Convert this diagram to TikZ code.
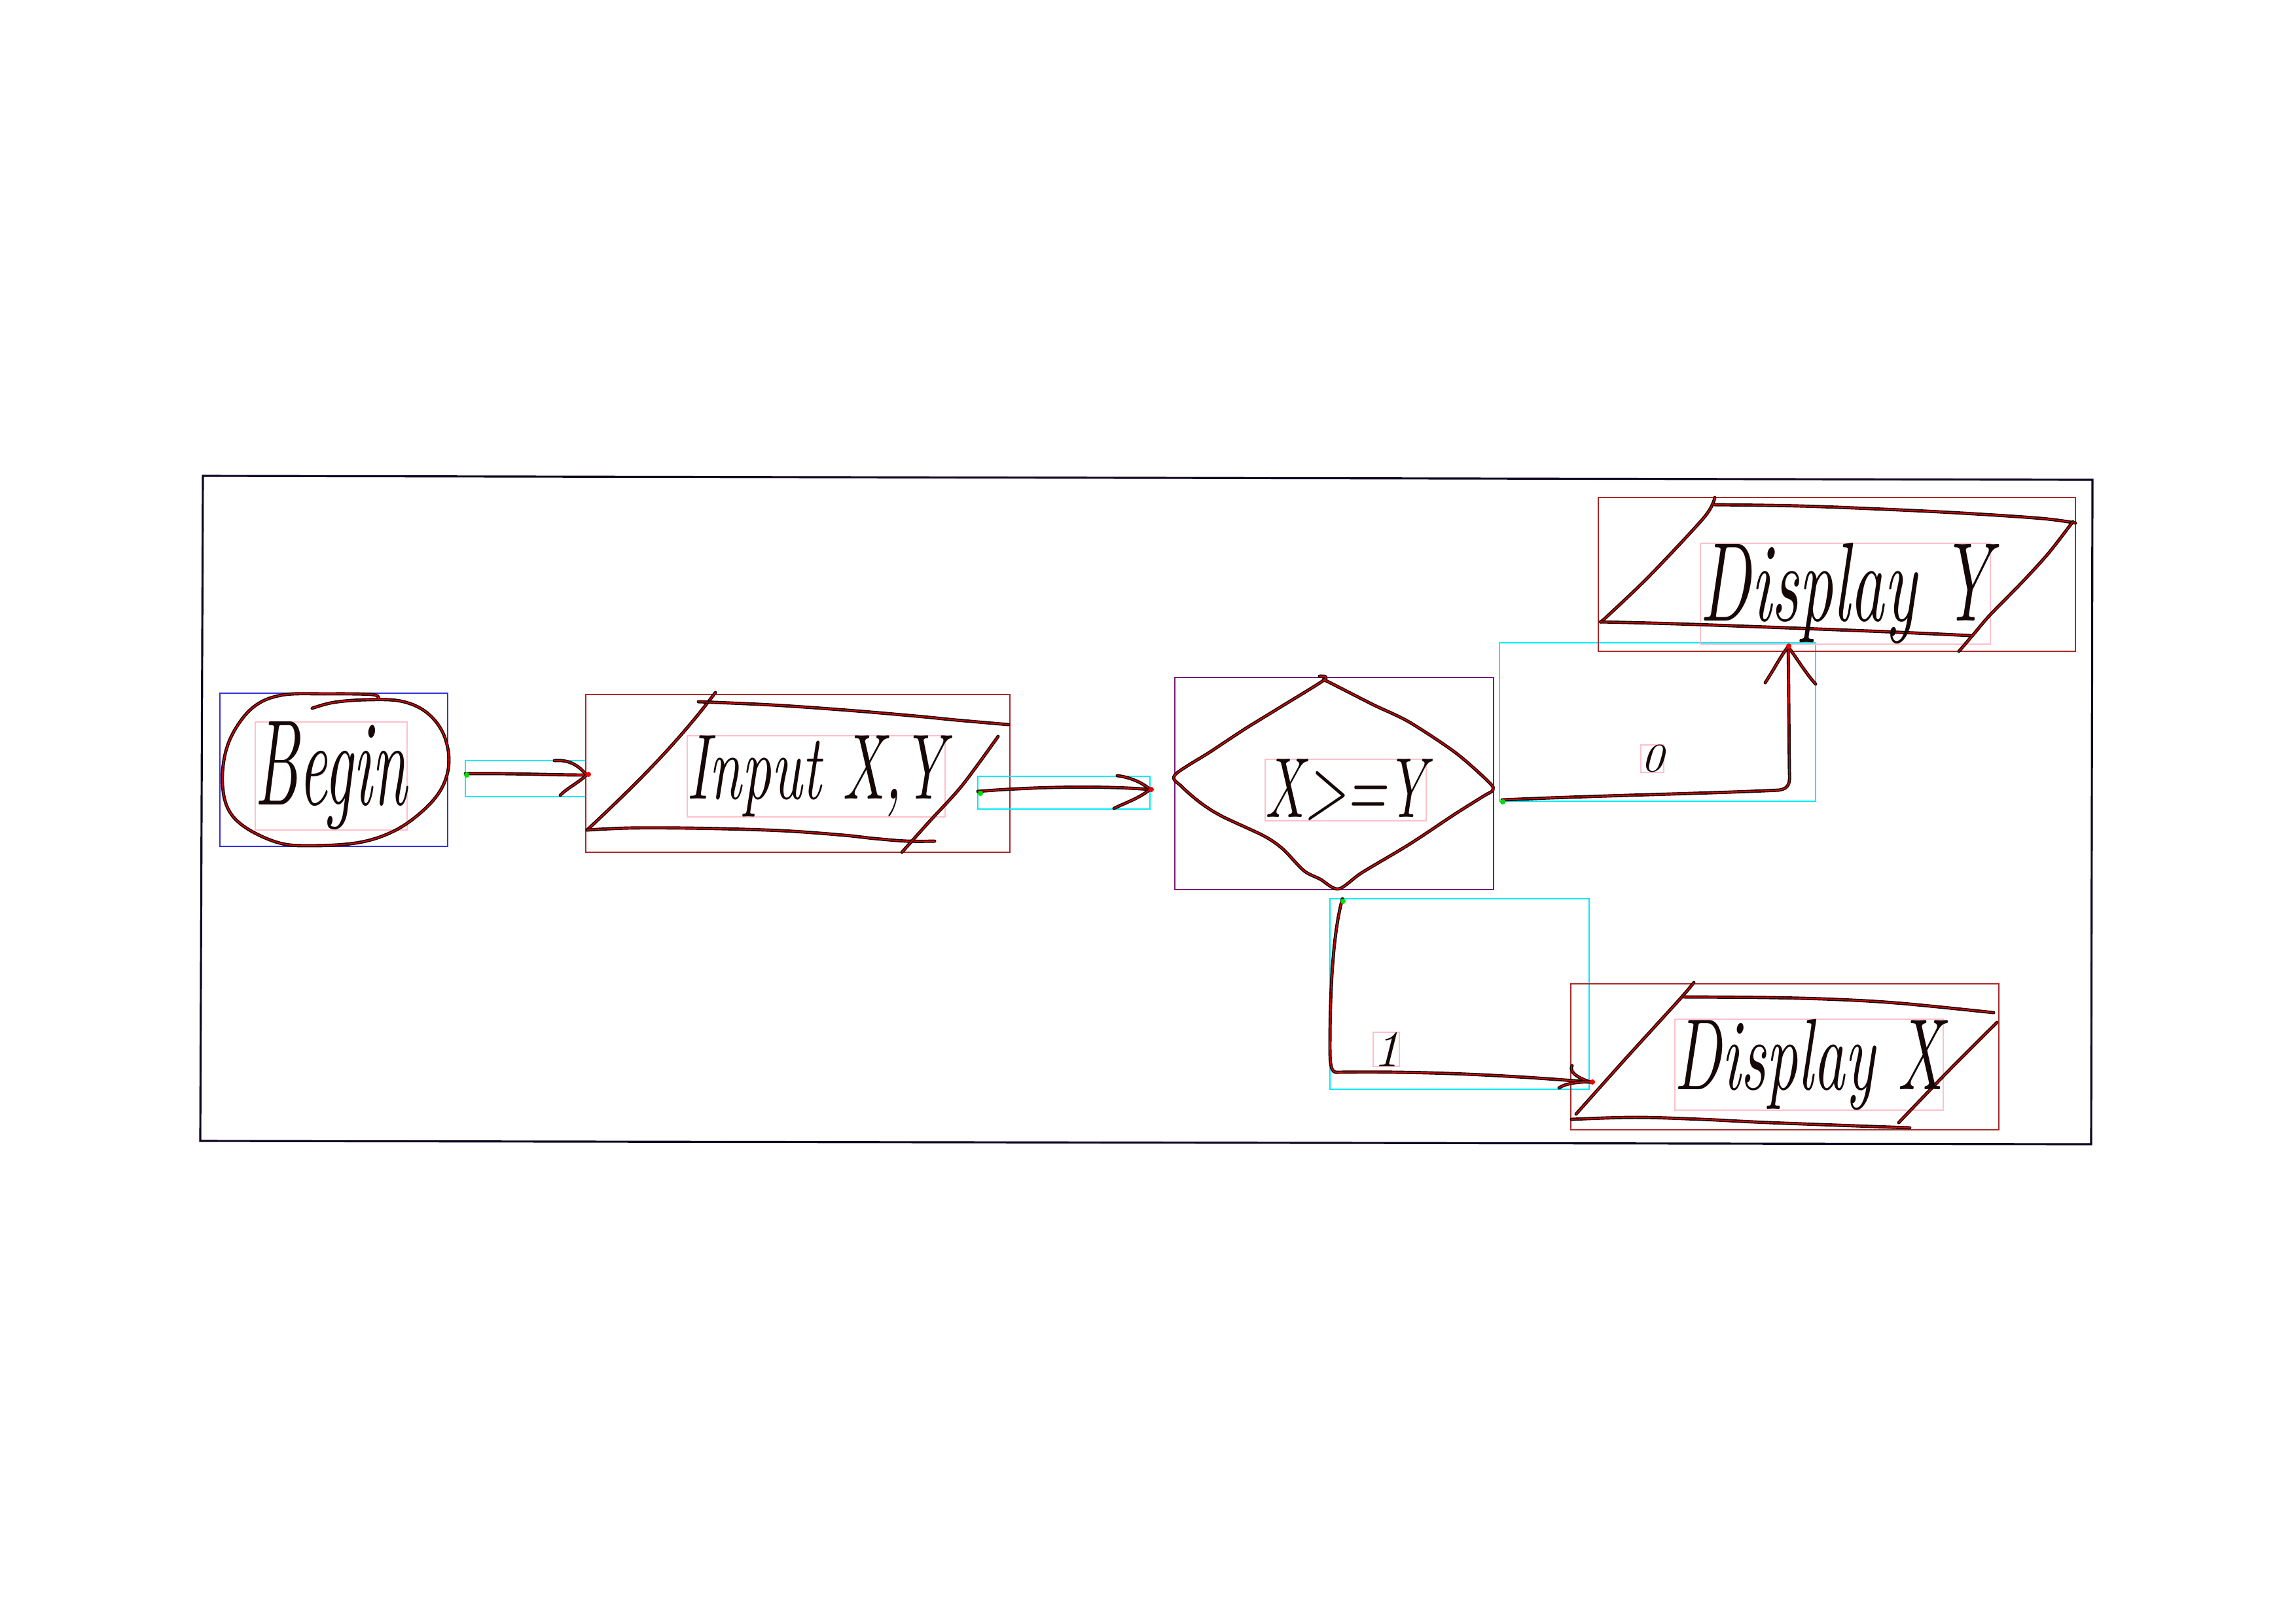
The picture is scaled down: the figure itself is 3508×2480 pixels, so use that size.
\documentclass[tikz,border=0pt]{standalone}
\usepackage{fontspec}
\usepackage{graphicx}
\usetikzlibrary{calc}

\definecolor{inkblack}{RGB}{22,8,8}
\definecolor{inkred}{RGB}{235,0,0}
\definecolor{boxblue}{RGB}{50,50,215}
\definecolor{boxbrown}{RGB}{170,40,40}
\definecolor{boxpurple}{RGB}{120,25,125}
\definecolor{boxcyan}{RGB}{0,235,245}
\definecolor{boxpink}{RGB}{255,192,203}
\definecolor{frameink}{RGB}{15,5,35}
\definecolor{startgreen}{RGB}{0,220,0}
\definecolor{endred}{RGB}{240,0,0}

% text scaled to fill a given width and total height
\newcommand{\fitbox}[3]{\resizebox*{#1}{#2}{\itshape #3}}

\tikzset{
  ink/.style={draw=inkblack, line width=1.4pt, line cap=round, line join=round,
              postaction={draw=inkred, line width=0.45pt}},
  frameline/.style={draw=frameink, line width=0.9pt, line join=miter},
  bbox/.style={draw=#1, line width=0.55pt},
  hand/.style={inner sep=0pt, outer sep=0pt, text=inkblack},
  startdot/.style={fill=startgreen, draw=none},
  enddot/.style={fill=endred, draw=none}
}

\begin{document}
\begin{tikzpicture}[x=0.01cm, y=-0.01cm]
  % page
  \fill[white] (0,0) rectangle (3508,2480);
  \useasboundingbox (0,0) rectangle (3508,2480);

  % outer frame
  \draw[frameline] (310,727) -- (3197,733) -- (3195,1748) -- (306,1743) -- cycle;

  % ---------- detection boxes ----------
  \draw[bbox=boxblue]   (336,1059) rectangle (684,1293);
  \draw[bbox=boxpink]   (390,1103) rectangle (622,1268);
  \draw[bbox=boxcyan]   (711,1162) rectangle (895,1217);
  \draw[bbox=boxbrown]  (895,1061) rectangle (1543,1302);
  \draw[bbox=boxpink]   (1050,1124) rectangle (1444,1248);
  \draw[bbox=boxcyan]   (1494,1186) rectangle (1757,1236);
  \draw[bbox=boxpurple] (1795,1035) rectangle (2282,1359);
  \draw[bbox=boxpink]   (1933,1160) rectangle (2179,1254);
  \draw[bbox=boxcyan]   (2291,982) rectangle (2774,1224);
  \draw[bbox=boxpink]   (2507,1138) rectangle (2542,1180);
  \draw[bbox=boxbrown]  (2442,760) rectangle (3171,995);
  \draw[bbox=boxpink]   (2598,830) rectangle (3041,984);
  \draw[bbox=boxcyan]   (2032,1373) rectangle (2428,1664);
  \draw[bbox=boxpink]   (2098,1577) rectangle (2138,1629);
  \draw[bbox=boxbrown]  (2400,1503) rectangle (3054,1726);
  \draw[bbox=boxpink]   (2559,1557) rectangle (2969,1696);

  % ---------- terminal: Begin ----------
  \draw[ink] plot[smooth, tension=0.6] coordinates {
    (578,1067) (568,1061) (500,1060) (430,1062) (385,1082) (352,1128)
    (340,1180) (346,1230) (372,1262) (424,1287) (474,1292) (549,1287)
    (605,1268) (650,1235) (677,1200) (686,1160) (676,1118) (650,1087)
    (612,1071) (560,1069) (510,1073) (477,1082)};
  \node[hand] (begin) at (506,1185.5) {\fitbox{2.32cm}{1.65cm}{Begin}};

  % ---------- input: Input X,Y ----------
  \draw[ink] (1093,1058) .. controls (1035,1135) and (975,1195) .. (897,1268);
  \draw[ink] plot[smooth, tension=0.6] coordinates {(1067,1072) (1180,1077) (1295,1085) (1400,1094) (1461,1100) (1541,1107)};
  \draw[ink] plot[smooth, tension=0.6] coordinates {(897,1268) (960,1265) (1046,1265) (1140,1267) (1212,1270) (1290,1276) (1336,1281) (1386,1285) (1428,1285)};
  \draw[ink] plot[smooth, tension=0.5] coordinates {(1525,1125) (1470,1200) (1420,1255) (1378,1302)};
  \node[hand] (input) at (1247,1186) {\fitbox{3.94cm}{1.24cm}{Input X,Y}};

  % ---------- decision: X>=Y ----------
  \draw[ink] plot[smooth, tension=0.5] coordinates {
    (2016,1033) (2024,1038) (1960,1078) (1903,1113) (1850,1148) (1795,1184)
    (1806,1202) (1835,1227) (1867,1247) (1931,1277) (1960,1297) (1992,1330)
    (2017,1343) (2045,1358) (2081,1333) (2153,1290) (2224,1243) (2267,1216)
    (2281,1207) (2275,1195) (2224,1150) (2153,1103) (2099,1077) (2046,1050)
    (2022,1038)};
  \node[hand] (decision) at (2056,1207) {\fitbox{2.46cm}{0.94cm}{X>=Y}};

  % ---------- output: Display Y ----------
  \draw[ink] plot[smooth, tension=0.5] coordinates {(2620,760) (2604,790) (2520,880) (2454,943) (2445,950)};
  \draw[ink] plot[smooth, tension=0.6] coordinates {(2619,771) (2750,773) (2880,778) (3000,784) (3119,792) (3171,799)};
  \draw[ink] plot[smooth, tension=0.6] coordinates {(2445,950) (2560,953) (2700,958) (2880,965) (3011,971)};
  \draw[ink] plot[smooth, tension=0.5] coordinates {(3167,797) (3130,845) (3089,890) (3040,940) (3017,967) (2993,995)};
  \node[hand] (dispy) at (2819.5,907) {\fitbox{4.43cm}{1.54cm}{Display Y}};

  % ---------- output: Display X ----------
  \draw[ink] plot[smooth, tension=0.5] coordinates {(2588,1501) (2566,1527) (2484,1617) (2408,1702)};
  \draw[ink] plot[smooth, tension=0.6] coordinates {(2573,1523) (2703,1524) (2810,1527) (2907,1533) (3046,1547)};
  \draw[ink] plot[smooth, tension=0.6] coordinates {(2401,1710) (2498,1707) (2600,1710) (2703,1715) (2918,1723)};
  \draw[ink] plot[smooth, tension=0.5] coordinates {(3051,1562) (2976,1637) (2901,1715)};
  \node[hand] (dispx) at (2764,1626.5) {\fitbox{4.10cm}{1.39cm}{Display X}};

  % ---------- connector ends ----------
  \coordinate (a1s) at (711,1182);
  \coordinate (a1e) at (896,1184);
  \coordinate (a2s) at (1494,1209);
  \coordinate (a2e) at (1757,1206);
  \coordinate (a3s) at (2295,1222);
  \coordinate (a3e) at (2732,988);
  \coordinate (a4s) at (2051,1373);
  \coordinate (a4e) at (2430,1653);

  % Begin -> Input
  \draw[ink] (a1s) .. controls (780,1181) and (840,1184) .. (a1e);
  \draw[ink] (847,1162) .. controls (870,1160) and (885,1170) .. (a1e);
  \draw[ink] (a1e) .. controls (885,1195) and (865,1205) .. (856,1215);

  % Input -> decision
  \draw[ink] (a2s) .. controls (1580,1202) and (1680,1200) .. (a2e);
  \draw[ink] (1707,1185) .. controls (1725,1187) and (1745,1195) .. (a2e);
  \draw[ink] (a2e) .. controls (1740,1220) and (1720,1226) .. (1702,1235);

  % decision -> Display Y  (branch 0)
  \draw[ink] (a3s) .. controls (2450,1215) and (2620,1212) .. (2718,1207)
             .. controls (2734,1205) and (2735,1195) .. (2734,1180)
             .. controls (2733,1100) and (2733,1040) .. (a3e);
  \draw[ink] (2697,1043) .. controls (2712,1020) and (2722,1000) .. (a3e);
  \draw[ink] (a3e) .. controls (2745,1005) and (2760,1030) .. (2774,1045);
  \node[hand] (lab0) at (2524.5,1159) {\fitbox{0.35cm}{0.42cm}{0}};

  % decision -> Display X  (branch 1)
  \draw[ink] (a4s) .. controls (2038,1420) and (2032,1500) .. (2032,1600)
             .. controls (2032,1630) and (2034,1640) .. (2045,1638)
             .. controls (2200,1636) and (2330,1645) .. (a4e);
  \draw[ink] (2402,1628) .. controls (2395,1640) and (2420,1650) .. (a4e);
  \draw[ink] (a4e) .. controls (2410,1652) and (2390,1656) .. (2382,1662);
  \node[hand] (lab1) at (2118,1603) {\fitbox{0.40cm}{0.52cm}{1}};

  % start and end markers of the connectors
  \fill[startdot] (713,1184) circle (4);
  \fill[enddot]   (899,1183) circle (4);
  \fill[startdot] (1498,1212) circle (4);
  \fill[enddot]   (1759,1206) circle (4);
  \fill[startdot] (2296,1225) circle (4);
  \fill[enddot]   (2733,987) circle (4);
  \fill[startdot] (2052,1377) circle (4);
  \fill[enddot]   (2433,1653) circle (4);
\end{tikzpicture}
\end{document}
